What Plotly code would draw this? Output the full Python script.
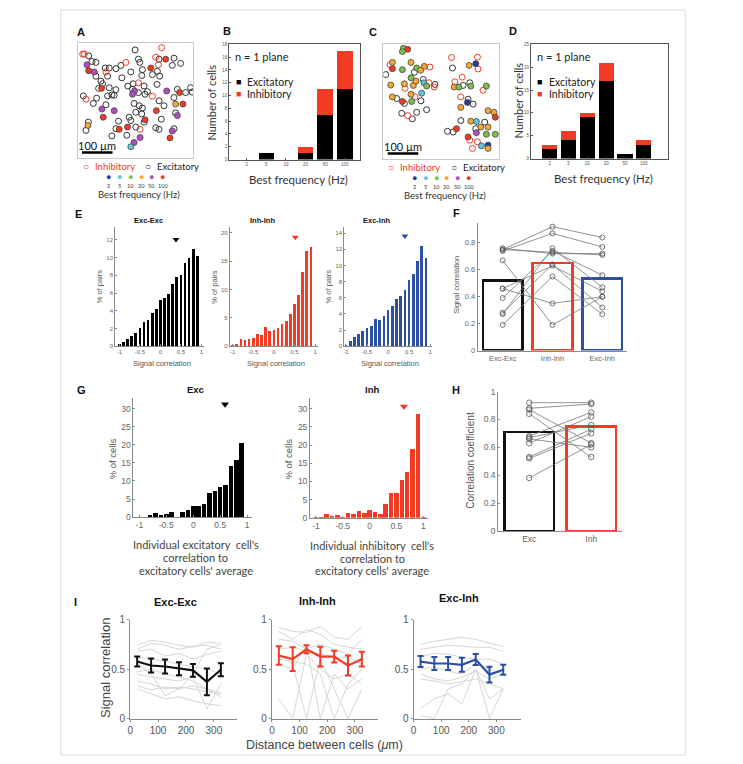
import plotly.graph_objects as go

W, H = 743, 764
def px(x): return x / W
def py(y): return 1 - y / H

FONT = "Liberation Sans, Arial, sans-serif"
CFONT = "Lato, Open Sans, sans-serif"
BLACK = "#111111"
RED = "#f23b24"
BLUE = "#2a4fa5"
AXC = "#8a8a8a"
TICKC = "#666666"

# ---------------- data ----------------
FREQ_LABELS = ["2", "5", "10", "20", "50", "100"]
FREQ_COLORS = ["#1f3f9a", "#62c6d6", "#7dbf4c", "#f3a935", "#b04ec0", "#f03a22"]

# imaging-field coordinates (field units; 92 units = 100 um)
UM_PER_UNIT = 100 / 92
FIELD_UNITS = 348
SCALE_BAR_UM = 100

A_exc_x = [173, 33, 43, 55, 290, 183, 187, 285, 310, 245, 83, 95, 115, 130, 195, 225, 240, 247, 193, 160, 55, 90, 133, 70, 75, 167, 151, 239, 95, 63, 115, 183, 210, 203, 300, 325, 340, 345, 290, 17, 57, 103, 110, 90, 47, 85, 170, 185, 195, 245, 260, 175, 193, 295, 155, 32, 25, 252, 160, 200, 123, 175, 235, 245, 290, 115, 103, 148, 165, 200]
A_exc_y = [20, 38, 55, 58, 45, 48, 58, 67, 61, 48, 75, 75, 77, 67, 80, 95, 85, 100, 98, 87, 100, 100, 105, 115, 123, 123, 130, 125, 135, 137, 141, 150, 147, 155, 140, 150, 135, 148, 165, 160, 167, 157, 158, 160, 183, 187, 183, 190, 197, 175, 190, 210, 215, 212, 225, 240, 265, 231, 235, 240, 237, 255, 257, 262, 260, 260, 282, 280, 140, 130]
A_inh_x = [20, 253, 235, 145, 243, 85, 183, 225, 25, 188, 15]
A_inh_y = [32, 13, 42, 58, 65, 87, 120, 161, 170, 262, 33]
A_tuned_x = [28, 33, 50, 265, 220, 72, 171, 165, 268, 307, 295, 317, 73, 110, 237, 300, 77, 31, 203, 150, 125, 285, 188, 278, 170, 160]
A_tuned_y = [65, 83, 87, 48, 75, 137, 145, 155, 145, 150, 185, 185, 200, 205, 205, 220, 225, 250, 233, 255, 262, 267, 287, 288, 302, 315]
A_tuned_f = ["50", "100", "50", "100", "100", "100", "50", "50", "50", "100", "20", "100", "50", "50", "100", "50", "100", "20", "100", "100", "100", "50", "50", "100", "50", "5"]

C_exc_x = [7, 93, 120, 155, 40, 113, 130, 55, 87, 100, 208, 260, 240, 255, 270, 233, 305, 193, 210, 278, 63]
C_exc_y = [92, 85, 107, 122, 165, 172, 199, 210, 227, 207, 72, 117, 125, 167, 182, 232, 237, 265, 267, 257, 180]
C_inh_x = [20, 140, 137, 153, 65, 95, 73, 205, 283, 285, 237, 215, 300, 233, 260, 283, 268]
C_inh_y = [62, 69, 117, 130, 134, 160, 217, 40, 39, 75, 100, 114, 140, 160, 292, 297, 317]
C_tuned_x = [60, 73, 57, 27, 27, 57, 83, 100, 123, 112, 83, 22, 63, 90, 98, 122, 130, 115, 83, 27, 57, 85, 278, 258, 213, 227, 263, 310, 253, 233, 315, 333, 337, 263, 280, 293, 315, 220, 280, 310, 337, 255, 295, 315, 315]
C_tuned_y = [12, 15, 22, 55, 74, 77, 55, 72, 67, 79, 102, 124, 120, 125, 112, 117, 127, 149, 152, 160, 174, 174, 59, 64, 130, 130, 127, 127, 177, 192, 202, 207, 222, 234, 235, 252, 252, 257, 269, 274, 274, 282, 309, 307, 317]
C_tuned_f = ["10", "100", "10", "20", "100", "10", "20", "10", "20", "20", "10", "20", "20", "20", "20", "5", "10", "5", "20", "20", "100", "10", "2", "20", "20", "10", "10", "10", "2", "20", "20", "20", "100", "20", "5", "20", "20", "100", "50", "10", "10", "100", "5", "2", "20"]

B_exc = [0, 1, 0, 1, 7, 11]
B_inh = [0, 0, 0, 1, 4, 6]
D_exc = [2, 4, 9, 17, 1, 3]
D_inh = [1, 2, 1, 4, 0, 1]

E_centers = [-1.0, -0.9, -0.8, -0.7, -0.6, -0.5, -0.4, -0.3, -0.2, -0.1, 0.0, 0.1, 0.2, 0.3, 0.4, 0.5, 0.6, 0.7, 0.8, 0.9]
E_exc_exc = [0.2, 0.5, 0.8, 1.2, 1.5, 2.1, 2.7, 3.0, 3.7, 4.2, 5.2, 5.4, 5.9, 7.0, 7.8, 8.0, 9.4, 10.0, 11.0, 10.2]
E_inh_inh = [0.05, 0.4, 1.3, 1.1, 1.2, 1.4, 2.1, 2.0, 3.4, 2.7, 2.8, 3.2, 4.0, 4.4, 5.7, 7.5, 9.0, 13.0, 16.8, 17.4]
E_exc_inh = [0.1, 0.7, 1.1, 1.5, 1.9, 2.2, 2.45, 3.4, 3.3, 3.8, 4.5, 5.0, 5.8, 6.2, 7.0, 8.2, 9.0, 10.6, 12.4, 10.9]
E_means = [0.38, 0.52, 0.40]

G_centers = [-1.0, -0.9, -0.8, -0.7, -0.6, -0.5, -0.4, -0.3, -0.2, -0.1, 0.0, 0.1, 0.2, 0.3, 0.4, 0.5, 0.6, 0.7, 0.8, 0.9, 1.0]
G_exc = [0.1, 0.1, 0.7, 1.2, 0.6, 0.8, 1.3, 0.0, 1.3, 1.9, 3.0, 3.0, 3.5, 6.6, 7.3, 8.4, 8.9, 14.0, 15.8, 20.4, 0.1]
G_inh = [0.1, 0.2, 1.0, 0.6, 0.7, 0.3, 1.3, 1.1, 1.9, 1.4, 2.2, 1.6, 1.0, 3.9, 6.7, 6.7, 10.4, 12.6, 19.0, 28.5, 0.1]
G_means = [0.59, 0.64]

F_labels = ["Exc-Exc", "Inh-Inh", "Exc-Inh"]
F_bars = [0.52, 0.65, 0.535]
F_exc_exc = [0.75, 0.74, 0.76, 0.75, 0.67, 0.46, 0.46, 0.39, 0.28, 0.27, 0.19]
F_inh_inh = [0.92, 0.87, 0.72, 0.73, 0.19, 0.35, 0.63, 0.74, 0.64, 0.76, 0.55]
F_exc_inh = [0.84, 0.77, 0.72, 0.71, 0.40, 0.40, 0.44, 0.56, 0.32, 0.47, 0.27]

H_labels = ["Exc", "Inh"]
H_bars = [0.71, 0.75]
H_exc = [0.92, 0.88, 0.87, 0.84, 0.68, 0.67, 0.66, 0.63, 0.53, 0.52, 0.38]
H_inh = [0.92, 0.91, 0.63, 0.53, 0.85, 0.76, 0.60, 0.82, 0.73, 0.70, 0.62]

I_dist = [25, 75, 125, 175, 225, 275, 325]
I_ee_mean = [0.576, 0.536, 0.526, 0.503, 0.487, 0.371, 0.493]
I_ee_err = [0.05, 0.07, 0.07, 0.065, 0.065, 0.135, 0.065]
I_ii_mean = [0.636, 0.60, 0.70, 0.626, 0.626, 0.536, 0.60]
I_ii_err = [0.093, 0.12, 0.04, 0.10, 0.06, 0.10, 0.075]
I_ei_mean = [0.576, 0.556, 0.556, 0.543, 0.596, 0.444, 0.493]
I_ei_err = [0.056, 0.066, 0.066, 0.07, 0.056, 0.08, 0.05]
I_ee_single = [
    [0.74, 0.79, 0.77, 0.74, 0.72, 0.77, 0.76],
    [0.70, 0.76, 0.74, 0.70, 0.73, 0.74, 0.70],
    [0.68, 0.70, 0.63, 0.66, 0.60, 0.65, 0.68],
    [0.62, 0.60, 0.58, 0.55, 0.52, 0.50, 0.45],
    [0.45, 0.42, 0.40, 0.38, 0.42, 0.10, 0.35],
    [0.38, 0.35, 0.30, 0.32, 0.30, 0.27, 0.25],
    [0.30, 0.25, 0.20, 0.22, 0.18, 0.15, 0.13],
    [0.33, 0.29, 0.32, 0.30, 0.33, 0.30, 0.26],
    [0.47, 0.50, 0.45, 0.42, 0.38, 0.30, 0.22],
    [0.55, 0.45, 0.23, 0.30, 0.45, 0.70, 0.75],
]
I_ii_single = [
    [0.92, 0.88, 0.87, 0.93, 0.82, 0.80, 0.93],
    [0.88, 0.80, 0.90, 0.85, 0.75, 0.72, 0.70],
    [0.80, 0.78, 0.70, 0.75, 0.70, 0.65, 0.80],
    [0.70, 0.72, 0.68, 0.65, 0.62, 0.62, 0.55],
    [0.20, 0.00, 0.65, 0.50, 0.40, 0.45, 0.35],
    [0.55, 0.50, 0.75, 0.00, 0.45, 0.30, 0.40],
    [0.65, 0.55, 0.00, 0.60, 0.30, 0.00, 0.30],
    [0.60, 0.58, 0.55, 0.45, 0.00, 0.35, 0.50],
]
I_ei_single = [
    [0.75, 0.78, 0.80, 0.82, 0.80, 0.76, 0.73],
    [0.70, 0.72, 0.74, 0.73, 0.72, 0.72, 0.68],
    [0.62, 0.66, 0.65, 0.62, 0.60, 0.60, 0.55],
    [0.45, 0.40, 0.38, 0.42, 0.48, 0.40, 0.45],
    [0.40, 0.38, 0.35, 0.37, 0.40, 0.35, 0.30],
    [0.10, 0.20, 0.25, 0.15, 0.50, 0.00, 0.30],
    [0.03, 0.00, 0.30, 0.35, 0.50, 0.20, 0.30],
    [0.50, 0.52, 0.48, 0.45, 0.55, 0.50, 0.45],
]

# ---------------- figure ----------------
fig = go.Figure()
layout = dict(width=W, height=H, margin=dict(l=0, r=0, t=0, b=0),
              paper_bgcolor="white", plot_bgcolor="rgba(0,0,0,0)",
              showlegend=False, barmode="stack", font=dict(family=FONT))
annotations = []
shapes = []

def sfx(n):
    return "" if n == 1 else str(n)

def add_axes(n, box, xr, yr, xo=None, yo=None):
    x0, x1, y0, y1 = box
    base = dict(showgrid=False, zeroline=False, showline=True, linecolor=AXC, linewidth=1,
                ticks="inside", ticklen=2, tickcolor=AXC, tickfont=dict(size=6, color=TICKC, family=FONT))
    xa = dict(base); xa.update(domain=[px(x0), px(x1)], range=xr, anchor="y" + sfx(n))
    ya = dict(base); ya.update(domain=[py(y1), py(y0)], range=yr, anchor="x" + sfx(n))
    if xo: xa.update(xo)
    if yo: ya.update(yo)
    layout["xaxis" + sfx(n)] = xa
    layout["yaxis" + sfx(n)] = ya

def ref(n):
    return dict(xaxis="x" + sfx(n), yaxis="y" + sfx(n))

def ann(x, y, text, size=10, color="#333", bold=False, angle=0, xanchor="center", family=FONT):
    if bold:
        text = "<b>" + text + "</b>"
    annotations.append(dict(x=px(x), y=py(y), xref="paper", yref="paper", text=text, showarrow=False,
                            font=dict(size=size, color=color, family=family), textangle=angle,
                            xanchor=xanchor, yanchor="middle"))

# ---- A & C: cell maps ----
field_um = FIELD_UNITS * UM_PER_UNIT
hide = dict(showticklabels=False, ticks="", mirror=True, linecolor="#c8c8c8")
fcol = dict(zip(FREQ_LABELS, FREQ_COLORS))
for n, box, ex, ey, ix, iy, tx, ty, tf in [
    (1, (75, 191, 38, 154), A_exc_x, A_exc_y, A_inh_x, A_inh_y, A_tuned_x, A_tuned_y, A_tuned_f),
    (3, (382, 498, 39, 155), C_exc_x, C_exc_y, C_inh_x, C_inh_y, C_tuned_x, C_tuned_y, C_tuned_f)]:
    add_axes(n, box, [0, field_um], [field_um, 0], hide, hide)
    fig.add_trace(go.Scatter(x=[v * UM_PER_UNIT for v in ex], y=[v * UM_PER_UNIT for v in ey], mode="markers",
                             marker=dict(symbol="circle-open", size=6, color="#333", line=dict(width=1)), **ref(n)))
    fig.add_trace(go.Scatter(x=[v * UM_PER_UNIT for v in ix], y=[v * UM_PER_UNIT for v in iy], mode="markers",
                             marker=dict(symbol="circle-open", size=6, color=RED, line=dict(width=1)), **ref(n)))
    fig.add_trace(go.Scatter(x=[v * UM_PER_UNIT for v in tx], y=[v * UM_PER_UNIT for v in ty], mode="markers",
                             marker=dict(symbol="circle", size=6, color=[fcol[f] for f in tf],
                                         line=dict(width=0.8, color="#444")), **ref(n)))
    # scale bar
    shapes.append(dict(type="line", xref="x" + sfx(n), yref="y" + sfx(n), x0=14, x1=14 + SCALE_BAR_UM,
                       y0=field_um * 0.955, y1=field_um * 0.955, line=dict(color="black", width=2.5)))
    annotations.append(dict(x=14 + SCALE_BAR_UM / 2, y=field_um * 0.895, xref="x" + sfx(n), yref="y" + sfx(n),
                            text="100 µm", showarrow=False, font=dict(size=11, color="#111", family=CFONT)))

# legends below maps
for x0, yb in [(75, 163), (382, 164)]:
    ann(x0 + 8, yb, "○", 10, RED)
    ann(x0 + 15, yb, "Inhibitory", 9.5, RED, xanchor="left", family=CFONT)
    ann(x0 + 71, yb, "○", 10, "#222")
    ann(x0 + 78, yb, "Excitatory", 9.5, "#222", xanchor="left", family=CFONT)
    for k, (lab, col) in enumerate(zip(FREQ_LABELS, FREQ_COLORS)):
        xx = x0 + 31 + k * 10.9
        ann(xx, yb + 11, "●", 9, col)
        ann(xx, yb + 20, lab, 5.5, "#333", family=CFONT)
    ann(x0 + 62, yb + 29, "Best frequency (Hz)", 9.5, "#333", family=CFONT)

# ---- B & D: stacked bars ----
for n, box, exc, inh, ymax, ytv, xr, lx, ly in [
    (2, (227, 358, 39, 156), B_exc, B_inh, 18, list(range(0, 19, 2)), [-0.9, 5.75], (209, 98), (236, 260)),
    (4, (530, 668, 39, 155), D_exc, D_inh, 25, list(range(0, 26, 5)), [-1.0, 6.3], (518, 96), (539, 560))]:
    box_opt = dict(mirror=True, linecolor="#555", tickcolor="#555", tickfont=dict(size=4.5, color="#555", family=FONT))
    add_axes(n, box, xr, [0, ymax], dict(box_opt, tickvals=list(range(6)), ticktext=FREQ_LABELS),
             dict(box_opt, tickvals=ytv))
    cats = list(range(len(FREQ_LABELS)))
    fig.add_trace(go.Bar(x=cats, y=exc, width=0.8, marker=dict(color="black", line=dict(width=0)), **ref(n)))
    fig.add_trace(go.Bar(x=cats, y=inh, width=0.8, marker=dict(color=RED, line=dict(width=0)), **ref(n)))
    x0, x1, y0, y1 = box
    ann(lx[0], lx[1], "Number of cells", 11, "#333", angle=-90, family=CFONT)
    ann((x0 + x1) / 2 + 4, y1 + 20, "Best frequency (Hz)", 11.5, "#333", family=CFONT)
    ann(ly[0] - 5, 51, "n = 1 plane", 11, "#222", xanchor="left", family=CFONT)
    for k, (lab, col) in enumerate([("Excitatory", "black"), ("Inhibitory", RED)]):
        ann(ly[0], 77 + 12.5 * k, "■", 9, col)
        ann(ly[0] + 7, 77 + 12.5 * k, lab, 10.5, "#222", xanchor="left", family=CFONT)

# ---- E: histograms ----
e_opts = dict(tickfont=dict(size=6, color=TICKC, family=FONT))
for n, box, vals, col, xr, ymax, ytv, mean, my, title in [
    (5, (112.7, 201.7, 225, 345.7), E_exc_exc, "black", [-1.1, 1.06], 13.4, list(range(0, 13, 2)), E_means[0], 12.05, "Exc-Exc"),
    (6, (227.7, 316, 225, 345.7), E_inh_inh, RED, [-1.07, 1.065], 20.9, [0, 5, 10, 15, 20], E_means[1], 19.2, "Inh-Inh"),
    (7, (342.7, 431, 225, 345.7), E_exc_inh, BLUE, [-1.04, 1.05], 14.7, list(range(0, 15, 2)), E_means[2], 13.65, "Exc-Inh")]:
    add_axes(n, box, xr, [0, ymax], dict(e_opts, tickvals=[-1, -0.5, 0, 0.5, 1], ticktext=["-1", "-0.5", "0", "0.5", "1"]),
             dict(e_opts, tickvals=ytv))
    fig.add_trace(go.Bar(x=E_centers, y=vals, width=0.065, marker=dict(color=col, line=dict(width=0)), **ref(n)))
    fig.add_trace(go.Scatter(x=[mean], y=[my], mode="markers",
                             marker=dict(symbol="triangle-down", size=6, color=col), **ref(n)))
    x0, x1, y0, y1 = box
    ann(x0 - 15.5, 285, "% of pairs", 7.5, "#555", angle=-90)
    ann((x0 + x1) / 2 + 2, 363, "Signal correlation", 7.5, "#555")
    ann((x0 + x1) / 2 - 11, 218, title, 7.5, "#111", bold=True)

# ---- F ----
f_top = 0.95
f_opts = dict(tickfont=dict(size=7.5, color=TICKC, family=FONT))
add_axes(8, (476.7, 626.7, 350 - f_top * 136.7, 350), [-0.5, 2.5], [0, f_top],
         dict(f_opts, tickvals=[0, 1, 2], ticktext=F_labels, ticks=""),
         dict(f_opts, tickvals=[0, 0.2, 0.4, 0.6, 0.8], ticktext=["0", "0.2", "0.4", "0.6", "0.8"]))
fig.add_trace(go.Bar(x=[0, 1, 2], y=F_bars, width=0.8,
                     marker=dict(color="rgba(0,0,0,0)", line=dict(color=[BLACK, RED, BLUE], width=2.5)), **ref(8)))
for a, b, c in zip(F_exc_exc, F_inh_inh, F_exc_inh):
    fig.add_trace(go.Scatter(x=[0, 1, 2], y=[a, b, c], mode="lines+markers",
                             line=dict(color="#777", width=0.8),
                             marker=dict(symbol="circle-open", size=5, color="#555", line=dict(width=0.8)), **ref(8)))
ann(455, 283, "Signal correlation", 7.5, "#555", angle=-90)

# ---- G ----
g_opts = dict(tickfont=dict(size=8.5, color=TICKC, family=FONT))
for n, box, vals, col, mean, my, title, lines, ylab_x in [
    (9, (131, 250, 398, 519.3), G_exc, "black", G_means[0], 31.2, "Exc",
     ["Individual excitatory  cell's", "correlation to", "excitatory cells' average"], 110),
    (10, (308.3, 426.8, 398, 520), G_inh, RED, G_means[1], 30.6, "Inh",
     ["Individual inhibitory  cell's", "correlation to", "excitatory cells' average"], 287)]:
    add_axes(n, box, [-1.11, 1.09], [0, 33],
             dict(g_opts, tickvals=[-1, -0.5, 0, 0.5, 1], ticktext=["-1", "-0.5", "0", "0.5", "1"]),
             dict(g_opts, tickvals=[0, 5, 10, 15, 20, 25, 30]))
    fig.add_trace(go.Bar(x=G_centers, y=vals, width=0.085, marker=dict(color=col, line=dict(width=0)), **ref(n)))
    fig.add_trace(go.Scatter(x=[mean], y=[my], mode="markers",
                             marker=dict(symbol="triangle-down", size=7, color=col), **ref(n)))
    x0, x1, y0, y1 = box
    ann(ylab_x, 460, "% of cells", 9.5, "#555", angle=-90)
    ann((x0 + x1) / 2 + 3, 390, title, 9.5, "#111", bold=True)
    for k, t in enumerate(lines):
        ann((x0 + x1) / 2 + 3, y1 + 28 + 13 * k, t, 11, "#444", family=CFONT)

# ---- H ----
h_opts = dict(tickfont=dict(size=8.5, color=TICKC, family=FONT))
add_axes(11, (497.3, 621.7, 391.7, 533.3), [-0.5, 1.5], [0, 1],
         dict(h_opts, tickvals=[0, 1], ticktext=H_labels, ticks=""),
         dict(h_opts, tickvals=[0, 0.2, 0.4, 0.6, 0.8, 1], ticktext=["0", "0.2", "0.4", "0.6", "0.8", "1"]))
fig.add_trace(go.Bar(x=[0, 1], y=H_bars, width=0.8,
                     marker=dict(color="rgba(0,0,0,0)", line=dict(color=[BLACK, RED], width=2.8)), **ref(11)))
for a, b in zip(H_exc, H_inh):
    fig.add_trace(go.Scatter(x=[0, 1], y=[a, b], mode="lines+markers",
                             line=dict(color="#777", width=0.8),
                             marker=dict(symbol="circle-open", size=5.5, color="#555", line=dict(width=0.8)), **ref(11)))
ann(470, 462, "Correlation coefficient", 10, "#555", angle=-90)

# ---- I ----
i_opts = dict(tickfont=dict(size=10, color="#555", family=FONT), ticks="outside", ticklen=2)
for n, box, xr, singles, mean, err, col, title, ty in [
    (12, (127.7, 235, 623.3, 724), [0, 383], I_ee_single, I_ee_mean, I_ee_err, BLACK, "Exc-Exc", 606),
    (13, (270, 376.7, 623.3, 724), [0, 384], I_ii_single, I_ii_mean, I_ii_err, RED, "Inh-Inh", 605),
    (14, (412.3, 520, 623.3, 724), [0, 389], I_ei_single, I_ei_mean, I_ei_err, BLUE, "Exc-Inh", 601)]:
    add_axes(n, box, xr, [0, 1], dict(i_opts, tickvals=[0, 100, 200, 300]),
             dict(i_opts, tickvals=[0, 0.5, 1], ticktext=["0", "0.5", "1"]))
    for s in singles:
        fig.add_trace(go.Scatter(x=I_dist, y=s, mode="lines", line=dict(color="#d6d6d6", width=1), **ref(n)))
    fig.add_trace(go.Scatter(x=I_dist, y=mean, mode="lines", line=dict(color=col, width=2.2),
                             error_y=dict(type="data", array=err, visible=True, color=col, thickness=2, width=3),
                             **ref(n)))
    x0, x1, y0, y1 = box
    ann((x0 + x1) / 2 - 8, ty, title, 11, "#111", bold=True)
ann(103, 673, "Signal correlation", 13, "#444", angle=-90)
ann(323, 751, "Distance between cells (<i>μ</i>m)", 12.5, "#444")

# ---- panel letters ----
for t, x, y in [("A", 78, 26), ("B", 225, 25), ("C", 372, 26), ("D", 512, 25), ("E", 76, 211),
                ("F", 455, 210), ("G", 79, 390), ("H", 455, 390), ("I", 73, 606)]:
    ann(x, y, t, 11, "#111", bold=True)

# outer frame
shapes.append(dict(type="rect", xref="paper", yref="paper", x0=px(58), x1=px(685), y0=py(761), y1=py(4),
                   line=dict(color="#dcdcdc", width=1)))

layout["annotations"] = annotations
layout["shapes"] = shapes
fig.update_layout(**layout)
fig.write_html("out.html")
